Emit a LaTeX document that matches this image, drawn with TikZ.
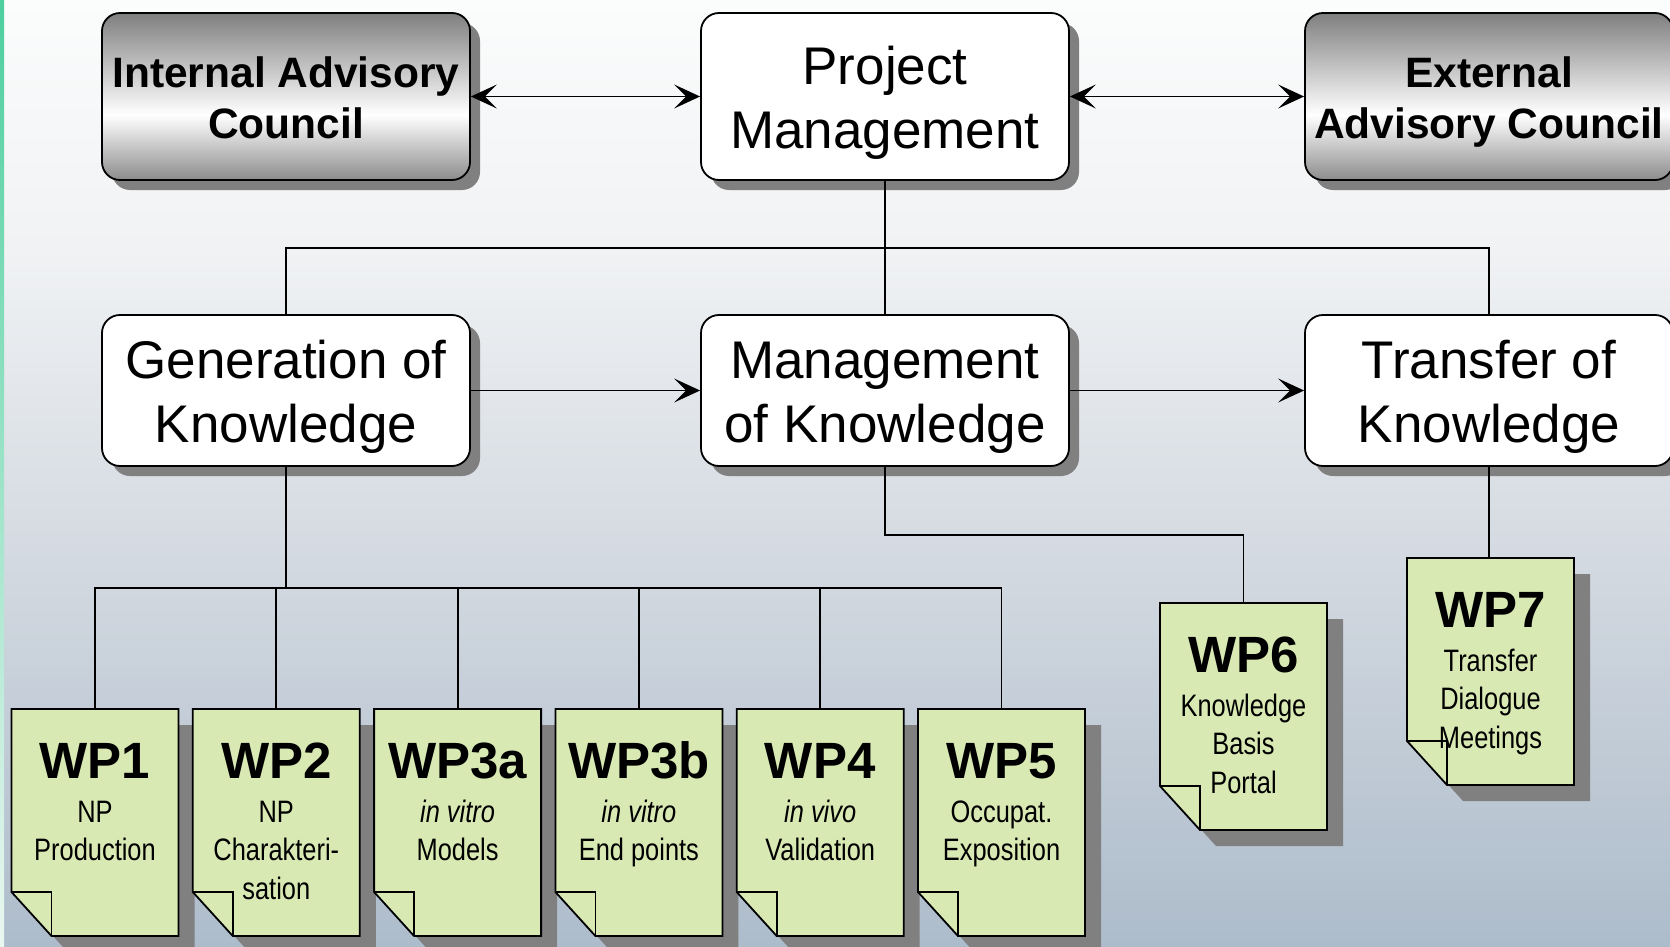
\documentclass[tikz,border=0pt]{standalone}
\usepackage{fontspec}
\setmainfont{Liberation Sans}
\newfontfamily\narrowfont{Liberation Sans}[FakeStretch=0.82]
\usetikzlibrary{arrows.meta,shadows,calc}

\definecolor{bgtop}{HTML}{FBFCFC}
\definecolor{bgupper}{HTML}{F0F2F4}
\definecolor{bglower}{HTML}{D4DAE1}
\definecolor{bgbottom}{HTML}{ADBCCB}
\definecolor{stripetop}{HTML}{4DCF9E}
\definecolor{stripebottom}{HTML}{EAF7F1}
\definecolor{councilgray}{HTML}{7F7F7F}
\definecolor{councilgraylow}{HTML}{8C8C8C}
\definecolor{shadowgray}{HTML}{808080}
\definecolor{paper}{HTML}{D9E9B3}

% page background: light at the top, grey-blue at the bottom
\pgfdeclareverticalshading{pagebg}{100bp}{color(0bp)=(bgbottom); color(25bp)=(bgbottom);
  color(45.96bp)=(bglower); color(61.8bp)=(bgupper); color(75bp)=(bgtop); color(100bp)=(bgtop)}
% metallic fill of the two advisory councils
\pgfdeclareverticalshading{metal}{100bp}{color(0bp)=(councilgraylow); color(25bp)=(councilgraylow);
  color(44.5bp)=(white); color(75bp)=(councilgray); color(100bp)=(councilgray)}
\pgfdeclareverticalshading{stripe}{100bp}{color(0bp)=(stripebottom); color(25bp)=(stripebottom);
  color(75bp)=(stripetop); color(100bp)=(stripetop)}

% invisible struts giving every two-line box label the same line box
\newcommand\bigtop{\rule{0pt}{51pt}}
\newcommand\bigbot{\rule[-10pt]{0pt}{0pt}}
\newcommand\cntop{\rule{0pt}{41pt}}
\newcommand\cnbot{\rule[-7.6pt]{0pt}{0pt}}

% a work package sheet with a dog-eared lower left corner
\newcommand\workpaper[6]{% name, centre x, top y, title, number of lines, description
  \pgfmathsetmacro\wpL{#2-83.5}\pgfmathsetmacro\wpR{#2+83.5}%
  \pgfmathsetmacro\wpT{#3}\pgfmathsetmacro\wpB{#3+227}%
  \pgfmathsetmacro\wpFx{\wpL+40}\pgfmathsetmacro\wpFy{\wpB-44}%
  \pgfmathsetmacro\wpLast{#3+113+38.5*(#5-1)}%
  \fill[shadowgray, shift={(16pt,-16pt)}] (\wpL,\wpT) -- (\wpR,\wpT) -- (\wpR,\wpB) -- (\wpFx,\wpB) -- (\wpL,\wpFy) -- cycle;
  \filldraw[paperbox] (\wpL,\wpT) -- (\wpR,\wpT) -- (\wpR,\wpB) -- (\wpFx,\wpB) -- (\wpL,\wpFy) -- cycle;
  \draw[paperbox, fill=none] (\wpL,\wpFy) -- (\wpFx,\wpFy) -- (\wpFx,\wpB);
  \node[paperslot] (#1) at (#2,{#3+113.5}) {};
  \node[papertitle] (#1t) at (#2,{#3+69}) {#4};
  \node[paperbody] (#1b) at (#2,\wpLast) {#6};
}

\begin{document}
\begin{tikzpicture}[x=1pt,y=-1pt,
  box/.style={draw=black, line width=1.8pt, rounded corners=18pt, align=center, inner sep=0pt,
    minimum width=368pt, general shadow={fill=shadowgray, shadow xshift=10pt, shadow yshift=-10pt}},
  council/.style={box, shading=metal, minimum height=167pt,
    font=\fontsize{42.5}{51}\selectfont\bfseries},
  bigtext/.style={font=\fontsize{53}{64}\selectfont},
  mgmt/.style={box, bigtext, fill=white, minimum height=167pt},
  pillar/.style={box, bigtext, fill=white, minimum height=151pt},
  paperbox/.style={draw=black, line width=1.8pt, fill=paper, line join=miter},
  paperslot/.style={minimum width=167pt, minimum height=227pt, inner sep=0pt},
  papertitle/.style={anchor=base, inner sep=0pt, font=\fontsize{51}{60}\selectfont\bfseries},
  paperbody/.style={anchor=base, inner sep=0pt, align=center, font=\narrowfont\fontsize{31}{38.5}\selectfont},
  link/.style={line width=1.8pt},
  flow/.style={link, -{Stealth[length=26pt,width=24pt,inset=12pt]}},
  twoway/.style={link, {Stealth[length=26pt,width=24pt,inset=12pt]}-{Stealth[length=26pt,width=24pt,inset=12pt]}}
]
\useasboundingbox (0,0) rectangle (1670,947);
\shade[shading=pagebg] (0,0) rectangle (1670,947);
\shade[shading=stripe] (0,0) rectangle (4,947);

% top row
\node[council] (iac) at (286,96.5) {\cntop Internal Advisory\\Council\cnbot};
\node[mgmt] (pm) at (885,96.5) {\bigtop Project\\Management\bigbot};
\node[council] (eac) at (1489,96.5) {\cntop External\\Advisory Council\cnbot};

% knowledge pillars
\node[pillar] (gok) at (286,390.5) {\bigtop Generation of\\Knowledge\bigbot};
\node[pillar] (mok) at (885,390.5) {\bigtop Management\\of Knowledge\bigbot};
\node[pillar] (tok) at (1489,390.5) {\bigtop Transfer of\\Knowledge\bigbot};

% work packages
\workpaper{wp1}{95}{709}{WP1}{2}{NP\\Production}
\workpaper{wp2}{276.3}{709}{WP2}{3}{NP\\Charakteri-\\sation}
\workpaper{wp3a}{457.6}{709}{WP3a}{2}{\textit{in vitro}\\Models}
\workpaper{wp3b}{638.9}{709}{WP3b}{2}{\textit{in vitro}\\End points}
\workpaper{wp4}{820.2}{709}{WP4}{2}{\textit{in vivo}\\Validation}
\workpaper{wp5}{1001.5}{709}{WP5}{2}{Occupat.\\Exposition}
\workpaper{wp6}{1243.5}{603}{WP6}{3}{Knowledge\\Basis\\Portal}
\workpaper{wp7}{1490.5}{558}{WP7}{3}{Transfer\\Dialogue\\Meetings}

% connectors
\draw[twoway] (iac) -- (pm);
\draw[twoway] (pm) -- (eac);
\draw[link] (pm.south) -- (mok.north);
\coordinate (pillarbus) at (885,248);
\draw[link] (gok.north) |- (pillarbus) -| (tok.north);
\draw[flow] (gok) -- (mok);
\draw[flow] (mok) -- (tok);

\coordinate (wpbus) at ($(gok.south)+(0,121)$);
\draw[link] (gok.south) -- (wpbus);
\foreach \w in {wp1,wp2,wp3a,wp3b,wp4,wp5}
  \draw[link] (wpbus) -| (\w.north);
\draw[link] (mok.south) -- ++(0,68) -| (wp6.north);
\draw[link] (tok.south) -- (tok.south |- wp7.north);
\end{tikzpicture}
\end{document}
